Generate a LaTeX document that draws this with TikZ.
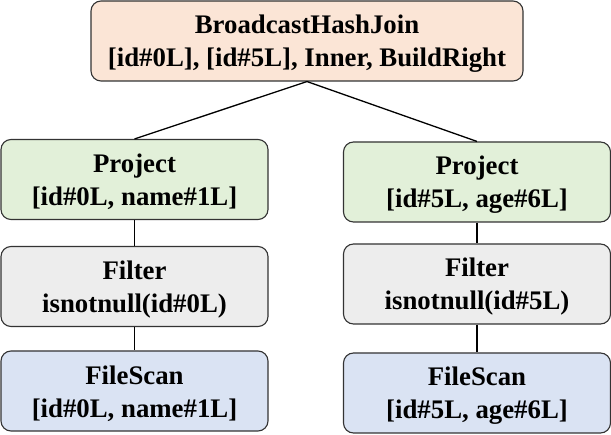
\documentclass[tikz,border=0pt]{standalone}
\usepackage{fontspec}
\setmainfont{Liberation Serif}
\usepackage{xcolor}
\definecolor{joinfill}{HTML}{FBE5D6}
\definecolor{projfill}{HTML}{E2F0D9}
\definecolor{filtfill}{HTML}{EDEDED}
\definecolor{scanfill}{HTML}{DAE3F3}
\definecolor{edge}{HTML}{333333}
\newcommand{\opstrut}{\rule{0pt}{24pt}}

\begin{document}
\begin{tikzpicture}[x=1pt, y=-1pt,
    op/.style={draw=edge, line width=1.1pt, rounded corners=10pt, align=center,
        inner sep=0pt, minimum height=80pt, minimum width=267pt,
        font=\bfseries\fontsize{26.8}{33}\selectfont},
    link/.style={line width=1.3pt}]
    \useasboundingbox (0, 0) rectangle (611, 435);
    \node[op, fill=joinfill, minimum width=432pt] (j) at (307, 41) {\opstrut BroadcastHashJoin\\{}[id\#0L], [id\#5L], Inner, BuildRight};
    \node[op, fill=projfill] (lp) at (134.5, 179.5) {\opstrut Project\\{}[id\#0L, name\#1L]};
    \node[op, fill=filtfill] (lf) at (134.5, 286.5) {\opstrut Filter\\isnotnull(id\#0L)};
    \node[op, fill=scanfill] (ls) at (134.5, 391) {\opstrut FileScan\\{}[id\#0L, name\#1L]};
    \node[op, fill=projfill] (rp) at (477, 182) {\opstrut Project\\{}[id\#5L, age\#6L]};
    \node[op, fill=filtfill] (rf) at (477, 284) {\opstrut Filter\\isnotnull(id\#5L)};
    \node[op, fill=scanfill] (rs) at (477, 393) {\opstrut FileScan\\{}[id\#5L, age\#6L]};
    \draw[link] (j.south) -- (lp.north);
    \draw[link] (j.south) -- (rp.north);
    \draw[link] (lp) -- (lf);
    \draw[link] (lf) -- (ls);
    \draw[link] (rp) -- (rf);
    \draw[link] (rf) -- (rs);
\end{tikzpicture}
\end{document}
